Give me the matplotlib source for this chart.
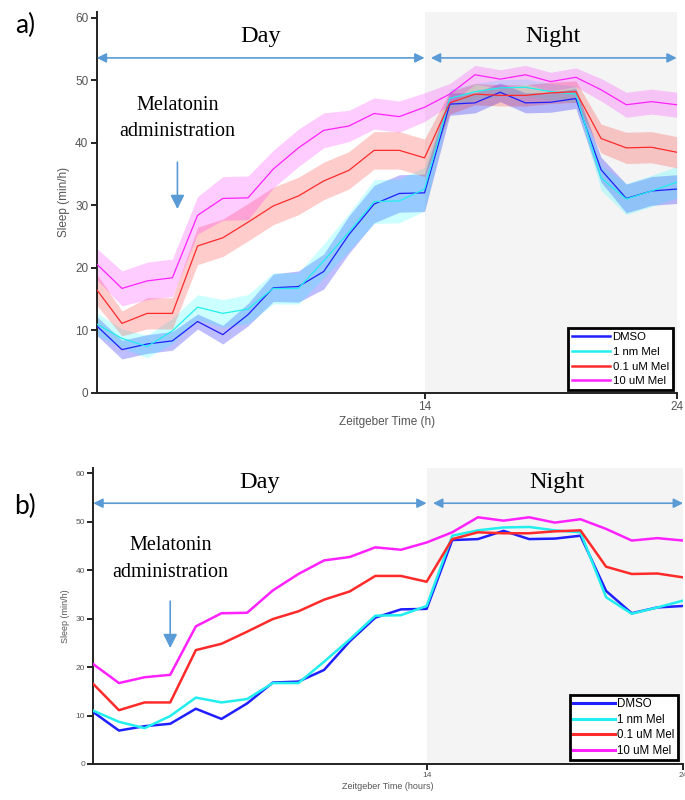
import matplotlib
matplotlib.use("Agg")
import matplotlib.pyplot as plt
import numpy as np

hours = list(range(1, 25))

dmso = [10.7, 6.9, 7.8, 8.3, 11.4, 9.3, 12.5, 16.8, 17.0, 19.4, 25.3, 30.2, 31.9, 32.0,
        46.2, 46.4, 48.1, 46.4, 46.5, 47.1, 35.7, 31.1, 32.3, 32.6]
mel_1nm = [11.0, 8.7, 7.4, 9.9, 13.7, 12.7, 13.4, 16.7, 16.7, 21.1, 25.7, 30.6, 30.7, 32.6,
           47.1, 48.2, 48.8, 48.9, 48.2, 47.8, 34.4, 31.0, 32.3, 33.7]
mel_01um = [16.5, 11.1, 12.7, 12.7, 23.5, 24.8, 27.3, 29.9, 31.5, 33.9, 35.6, 38.8, 38.8, 37.6,
            46.4, 47.8, 47.6, 47.6, 48.0, 48.2, 40.7, 39.2, 39.3, 38.5]
mel_10um = [20.6, 16.7, 17.9, 18.4, 28.4, 31.1, 31.2, 35.8, 39.2, 42.0, 42.7, 44.7, 44.2, 45.7,
            47.8, 50.9, 50.2, 50.9, 49.8, 50.5, 48.5, 46.1, 46.6, 46.1]

sem_dmso = [1.5, 1.5, 1.5, 1.5, 1.2, 1.5, 1.8, 2.2, 2.5, 2.8, 3.0, 3.0, 3.0, 3.0,
            1.8, 1.6, 1.5, 1.6, 1.6, 1.6, 2.0, 2.3, 2.3, 2.3]
sem_1nm = [1.8, 1.5, 1.8, 2.0, 2.0, 2.2, 2.3, 2.5, 2.5, 2.7, 3.0, 3.5, 3.5, 3.5,
           1.5, 1.3, 1.3, 1.3, 1.3, 1.3, 2.0, 2.5, 2.5, 2.5]
sem_01um = [2.5, 2.0, 2.5, 2.5, 3.0, 3.0, 3.0, 3.0, 3.0, 3.0, 3.0, 3.0, 3.0, 3.0,
            1.8, 1.7, 1.7, 1.7, 1.7, 1.7, 2.3, 2.5, 2.5, 2.5]
sem_10um = [2.5, 2.8, 3.0, 3.0, 3.0, 3.5, 3.5, 3.0, 3.0, 2.8, 2.5, 2.5, 2.5, 2.3,
            1.7, 1.5, 1.5, 1.5, 1.5, 1.5, 1.8, 2.0, 2.0, 2.0]

labels = ["DMSO", "1 nm Mel", "0.1 uM Mel", "10 uM Mel"]
means = [dmso, mel_1nm, mel_01um, mel_10um]
sems = [sem_dmso, sem_1nm, sem_01um, sem_10um]
line_colors = ["#1f1fff", "#22eeee", "#ff2a2a", "#ff22ff"]
fill_colors = ["#0000ff", "#00ffff", "#ff0000", "#ff00ff"]
fill_alpha = [0.26, 0.2, 0.2, 0.2]

yticks = [0, 10, 20, 30, 40, 50, 60]
xticks = [14, 24]

fig = plt.figure(figsize=(6.85, 8.0), dpi=100)
ax_a = fig.add_axes([0.1412, 0.5091, 0.8467, 0.4763])
ax_b = fig.add_axes([0.1362, 0.045, 0.8609, 0.3696])

arrow_color = "#5b9bd5"
serif = ["Liberation Serif", "DejaVu Serif"]
sans = ["Liberation Sans", "DejaVu Sans"]


def style_axes(ax, tick_fs, label_fs, xlabel):
    ax.set_xlim(1, 24)
    ax.set_ylim(0, 61)
    ax.axvspan(14, 24, color="#f4f4f4", zorder=0, lw=0)
    for s in ["top", "right"]:
        ax.spines[s].set_visible(False)
    for s in ["left", "bottom"]:
        ax.spines[s].set_linewidth(1.4)
        ax.spines[s].set_color("#222222")
    ax.set_yticks(yticks)
    ax.set_xticks(xticks)
    ax.tick_params(axis="both", direction="out", length=4, width=1.2,
                   labelsize=tick_fs, labelcolor="#555555", pad=2)
    for t in ax.get_xticklabels() + ax.get_yticklabels():
        t.set_family(sans)
    ax.set_ylabel("Sleep (min/h)", fontsize=label_fs, color="#555555", family=sans, labelpad=4)
    ax.set_xlabel(xlabel, fontsize=label_fs, color="#555555", family=sans, labelpad=2)


def annotate_panel(ax, day_y, arrow_y, mel_x, mel_y1, mel_y2, arr_top, arr_bot):
    ax.annotate("", xy=(1.0, arrow_y), xytext=(14.0, arrow_y),
                arrowprops=dict(arrowstyle="<|-|>", color=arrow_color, lw=1.2,
                                mutation_scale=14, shrinkA=0, shrinkB=0))
    ax.annotate("", xy=(14.25, arrow_y), xytext=(24.0, arrow_y),
                arrowprops=dict(arrowstyle="<|-|>", color=arrow_color, lw=1.2,
                                mutation_scale=14, shrinkA=0, shrinkB=0),
                annotation_clip=False)
    ax.text(7.5, day_y, "Day", ha="center", va="center", fontsize=17.5, family=serif)
    ax.text(19.1, day_y, "Night", ha="center", va="center", fontsize=17.5, family=serif)
    ax.text(mel_x, mel_y1, "Melatonin", ha="center", va="center", fontsize=14.5, family=serif)
    ax.text(mel_x, mel_y2, "administration", ha="center", va="center", fontsize=14.5, family=serif)
    ax.annotate("", xy=(mel_x, arr_bot), xytext=(mel_x, arr_top),
                arrowprops=dict(arrowstyle="-|>,head_length=0.6,head_width=0.3",
                                color=arrow_color, lw=1.2,
                                mutation_scale=14, shrinkA=0, shrinkB=0))


# Panel a: means with SEM bands
for m, s, lc, fc, fa, lab in zip(means, sems, line_colors, fill_colors, fill_alpha, labels):
    m = np.array(m)
    s = np.array(s)
    ax_a.fill_between(hours, m - s, m + s, color=fc, alpha=fa, lw=0, zorder=2)
    ax_a.plot(hours, m, color=lc, lw=0.9, label=lab, zorder=3)

style_axes(ax_a, 8.5, 8.5, "Zeitgeber Time (h)")
annotate_panel(ax_a, 57.0, 53.6, 4.2, 46.0, 41.8, 36.9, 29.4)
leg_a = ax_a.legend(loc="lower right", bbox_to_anchor=(0.993, 0.007), borderaxespad=0,
                    handlelength=3.4, handletextpad=0.2, labelspacing=0.4,
                    borderpad=0.35, fancybox=False, framealpha=1, edgecolor="black",
                    prop={"family": sans, "size": 8.2})
leg_a.get_frame().set_linewidth(2)
for h in leg_a.get_lines():
    h.set_linewidth(1.8)

# Panel b: means only
for m, lc, lab in zip(means, line_colors, labels):
    ax_b.plot(hours, m, color=lc, lw=1.8, label=lab, zorder=3)

style_axes(ax_b, 6, 6.5, "Zeitgeber Time (hours)")
annotate_panel(ax_b, 58.0, 53.8, 4.0, 45.0, 39.6, 33.6, 23.9)
leg_b = ax_b.legend(loc="lower right", bbox_to_anchor=(0.9915, 0.0135), borderaxespad=0,
                    handlelength=3.6, handletextpad=0.2, labelspacing=0.3,
                    borderpad=0.3, fancybox=False, framealpha=1, edgecolor="black",
                    prop={"family": sans, "size": 8.3})
leg_b.get_frame().set_linewidth(2)
for h in leg_b.get_lines():
    h.set_linewidth(2.2)

fig.text(25 / 685, 1 - 25 / 800, "a)", ha="center", va="center", fontsize=19,
         family=["Lato", "DejaVu Sans"])
fig.text(25 / 685, 1 - 506 / 800, "b)", ha="center", va="center", fontsize=19,
         family=["Lato", "DejaVu Sans"])

fig.savefig("out.png", dpi=100)
